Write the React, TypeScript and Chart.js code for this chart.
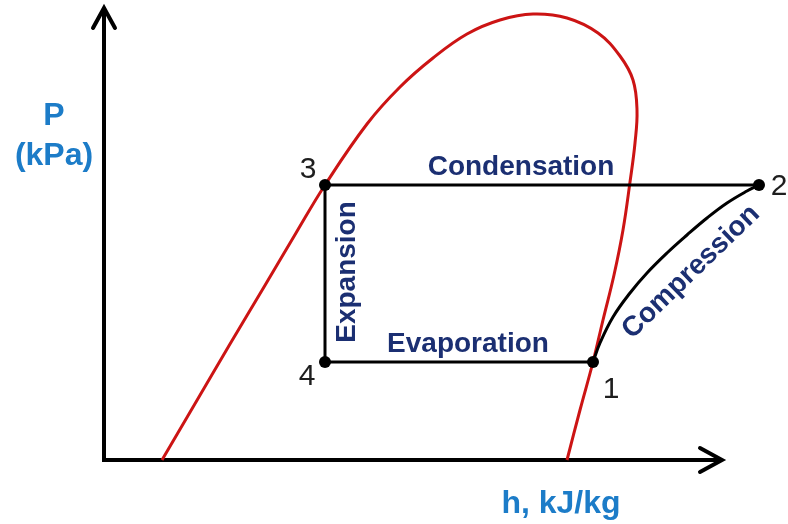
import React, { useEffect, useRef } from "react";
import { Chart, registerables } from "chart.js";

Chart.register(...registerables);

// Saturation dome (h in arbitrary kJ/kg units, P in arbitrary kPa units)
const domeH = [58, 92, 126, 160, 192, 221, 263, 296, 329, 363, 396, 429, 463, 494, 516, 529, 533, 531, 526, 519, 510, 499, 489, 476, 463];
const domeP = [0, 58, 116, 173, 227, 275, 336, 373, 402, 426, 440, 446, 442, 427, 404, 380, 350, 317, 278, 230, 185, 140, 98, 50, 0];

// Cycle states: 1 -> 4 -> 3 -> 2 (evaporation, expansion, condensation)
const cycleStates = ["1", "4", "3", "2"];
const cycleH = [489, 221, 221, 655];
const cycleP = [98, 98, 275, 275];

// Compression curve 1 -> 2
const compressionH = [489, 496, 509, 526, 543, 563, 583, 603, 623, 643, 655];
const compressionP = [98, 117, 143, 167, 187, 207, 225, 242, 257, 269, 275];

// Axes (with arrow heads)
const axisH = [0, 0, 616];
const axisP = [450, 0, 0];
const yArrowH = [-11, 0, 11];
const yArrowP = [432, 452, 432];
const xArrowH = [596, 618, 596];
const xArrowP = [12, 0, -12];

const zip = (xs: number[], ys: number[]) => xs.map((x, i) => ({ x, y: ys[i] }));

type Label = { text: string; h: number; p: number; font: string; color: string; rot?: number; base?: CanvasTextBaseline };

const BLUE = "#1c7cc8";
const NAVY = "#1b2f72";
const DARK = "#1e1e1e";
const boldF = (s: number) => `bold ${s}px "Liberation Sans", Arial, sans-serif`;
const normF = (s: number) => `${s}px "Liberation Sans", Arial, sans-serif`;

const labels: Label[] = [
  { text: "P", h: -50, p: 335, font: boldF(32), color: BLUE },
  { text: "(kPa)", h: -50, p: 295, font: boldF(32), color: BLUE },
  { text: "h, kJ/kg", h: 457, p: -53, font: boldF(32), color: BLUE },
  { text: "Condensation", h: 417, p: 285, font: boldF(28), color: NAVY },
  { text: "Evaporation", h: 364, p: 108, font: boldF(28), color: NAVY },
  { text: "Expansion", h: 243, p: 188, font: boldF(28), color: NAVY, rot: -90, base: "middle" },
  { text: "Compression", h: 587, p: 188, font: boldF(28), color: NAVY, rot: -44, base: "middle" },
  { text: cycleStates[2], h: 204, p: 282, font: normF(30), color: DARK },
  { text: cycleStates[3], h: 675, p: 265, font: normF(30), color: DARK },
  { text: cycleStates[1], h: 203, p: 75, font: normF(30), color: DARK },
  { text: cycleStates[0], h: 507, p: 62, font: normF(30), color: DARK },
];

const labelPlugin = {
  id: "labels",
  afterDatasetsDraw(chart: any) {
    const ctx = chart.ctx as CanvasRenderingContext2D;
    const xs = chart.scales.x;
    const ys = chart.scales.y;
    labels.forEach((l) => {
      const px = xs.getPixelForValue(l.h);
      const py = ys.getPixelForValue(l.p);
      ctx.save();
      ctx.translate(px, py);
      if (l.rot) ctx.rotate((l.rot * Math.PI) / 180);
      ctx.font = l.font;
      ctx.fillStyle = l.color;
      ctx.textAlign = "center";
      ctx.textBaseline = l.base || "alphabetic";
      ctx.fillText(l.text, 0, 0);
      ctx.restore();
    });
  },
};

export default function App() {
  const ref = useRef<HTMLCanvasElement>(null);
  useEffect(() => {
    document.body.style.margin = "0";
    const black = "#000000";
    const chart = new Chart(ref.current!, {
      type: "line",
      data: {
        datasets: [
          {
            label: "Cycle",
            data: zip(cycleH, cycleP),
            borderColor: black,
            backgroundColor: black,
            borderWidth: 3,
            pointRadius: 6,
            pointBackgroundColor: black,
            pointBorderWidth: 0,
            tension: 0,
          },
          {
            label: "Compression",
            data: zip(compressionH, compressionP),
            borderColor: black,
            borderWidth: 3,
            pointRadius: 0,
            tension: 0.4,
          },
          {
            label: "Saturation dome",
            data: zip(domeH, domeP),
            borderColor: "#cc1414",
            borderWidth: 3,
            pointRadius: 0,
            tension: 0.4,
          },
          {
            label: "Axes",
            data: zip(axisH, axisP),
            borderColor: black,
            borderWidth: 4,
            pointRadius: 0,
            tension: 0,
            borderJoinStyle: "miter",
          },
          {
            label: "Y arrow",
            data: zip(yArrowH, yArrowP),
            borderColor: black,
            borderWidth: 4,
            pointRadius: 0,
            tension: 0,
            borderJoinStyle: "miter",
            borderCapStyle: "round",
          },
          {
            label: "X arrow",
            data: zip(xArrowH, xArrowP),
            borderColor: black,
            borderWidth: 4,
            pointRadius: 0,
            tension: 0,
            borderJoinStyle: "miter",
            borderCapStyle: "round",
          },
        ],
      },
      options: {
        responsive: false,
        animation: false,
        parsing: false as any,
        layout: { padding: 0, autoPadding: false },
        plugins: { legend: { display: false }, tooltip: { enabled: false } },
        scales: {
          x: { type: "linear", min: -104, max: 684, display: false },
          y: { type: "linear", min: -64, max: 460, display: false },
        },
      },
      plugins: [labelPlugin],
    });
    return () => chart.destroy();
  }, []);
  return (
    <div style={{ width: 788, height: 524, background: "#fff" }}>
      <canvas ref={ref} width={788} height={524} />
    </div>
  );
}
